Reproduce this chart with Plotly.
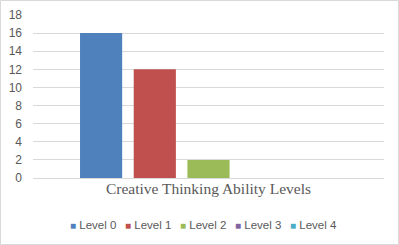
import plotly.graph_objects as go

categories = ["Creative Thinking Ability Levels"]
series_names = ["Level 0", "Level 1", "Level 2", "Level 3", "Level 4"]
series_values = [16, 12, 2, 0, 0]
colors = ["#4F81BD", "#C0504D", "#9BBB59", "#8064A2", "#4BACC6"]
y_ticks = [0, 2, 4, 6, 8, 10, 12, 14, 16, 18]

fig = go.Figure()
for name, val, col in zip(series_names, series_values, colors):
    fig.add_trace(go.Bar(x=categories, y=[val], name=name, showlegend=False,
                         marker=dict(color=col, line=dict(width=0))))

W, H = 399, 245
l, r, t, b = 33, 15, 15, 67
pw, ph = W - l - r, H - t - b

fig.update_layout(
    width=W, height=H,
    margin=dict(l=l, r=r, t=t, b=b, autoexpand=False),
    paper_bgcolor="white", plot_bgcolor="white",
    barmode="group", bargap=0.235, bargroupgap=0.215,
    showlegend=False,
    font=dict(family="Liberation Sans", color="#595959"),
)
fig.update_xaxes(
    showticklabels=False, showline=True, linecolor="#D9D9D9", linewidth=1,
    title=dict(text="Creative Thinking Ability Levels",
               font=dict(family="Liberation Serif", size=15.5, color="#595959"), standoff=5),
)
fig.update_yaxes(
    range=[0, 18], tickvals=y_ticks, showgrid=True, gridcolor="#D9D9D9", gridwidth=1,
    zeroline=False, showline=False, ticklabelstandoff=10,
    tickfont=dict(family="Liberation Sans", size=12, color="#595959"),
)

# manual legend (Excel-style small squares)
legend_x0 = 68
step = 55
for i, (name, col) in enumerate(zip(series_names, colors)):
    fig.add_annotation(
        xref="paper", yref="paper",
        x=(legend_x0 + i * step - l) / pw, xanchor="left",
        y=(t + ph - 225) / ph, yanchor="middle",
        text=f"<span style='color:{col};font-size:10px'>■</span> {name}",
        showarrow=False, font=dict(family="Liberation Sans", size=11.5, color="#595959"),
    )

fig.add_shape(type="rect", xref="paper", yref="paper",
              x0=(0.5 - l) / pw, x1=(W - 0.5 - l) / pw,
              y0=(t + ph - (H - 0.5)) / ph, y1=(t + ph - 0.5) / ph,
              line=dict(color="#D9D9D9", width=1), layer="below")

fig.write_html("out.html")
